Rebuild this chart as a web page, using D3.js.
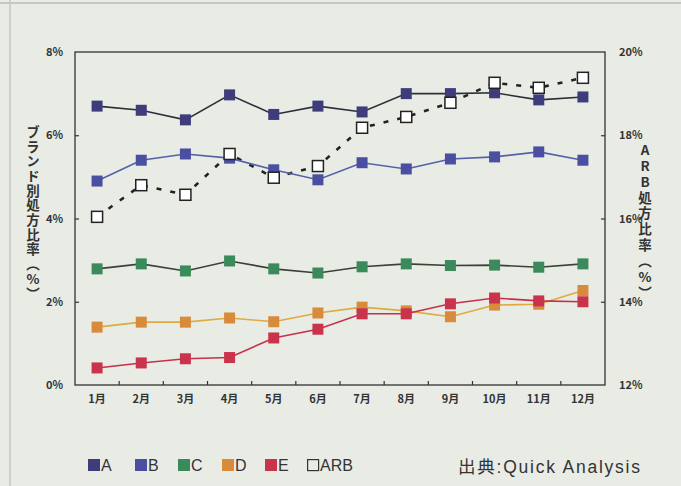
<!DOCTYPE html>
<html>
<head>
<meta charset="utf-8">
<script src="https://cdn.jsdelivr.net/npm/d3@7"></script>
<style>
body { margin: 0; background: #e8ece5; }
svg { display: block; font-family: "Liberation Sans", Arial, sans-serif; }
</style>
</head>
<body>
<div id="chart"></div>
<script>
var width = 681;
var height = 486;

// data
var months = ["1月", "2月", "3月", "4月", "5月", "6月", "7月", "8月", "9月", "10月", "11月", "12月"];
var seriesA = [6.7, 6.6, 6.37, 6.97, 6.5, 6.7, 6.56, 7.0, 7.0, 7.02, 6.85, 6.92];
var seriesB = [4.9, 5.4, 5.55, 5.45, 5.17, 4.93, 5.34, 5.19, 5.43, 5.48, 5.6, 5.4];
var seriesC = [2.79, 2.91, 2.74, 2.98, 2.79, 2.69, 2.84, 2.91, 2.87, 2.88, 2.83, 2.91];
var seriesD = [1.39, 1.51, 1.51, 1.61, 1.52, 1.73, 1.87, 1.78, 1.64, 1.92, 1.94, 2.27];
var seriesE = [0.41, 0.53, 0.63, 0.66, 1.13, 1.34, 1.71, 1.71, 1.95, 2.09, 2.02, 2.0];
var seriesARB = [16.04, 16.8, 16.57, 17.55, 16.98, 17.26, 18.18, 18.44, 18.78, 19.26, 19.14, 19.38];
var leftTicks = [0, 2, 4, 6, 8];
var rightTicks = [12, 14, 16, 18, 20];

var brands = [
  { name: "A", values: seriesA, fill: "#3e3c7a", line: "#2e2e3a" },
  { name: "B", values: seriesB, fill: "#4a4fa2", line: "#5461a8" },
  { name: "C", values: seriesC, fill: "#3a8a5c", line: "#3a4238" },
  { name: "D", values: seriesD, fill: "#d98b3c", line: "#dfaa3e" },
  { name: "E", values: seriesE, fill: "#c9344c", line: "#c8304a" }
];

var plotLeft = 75, plotRight = 605, plotTop = 52, plotBottom = 385;

var x = d3.scaleBand().domain(months).range([plotLeft, plotRight]);
var yL = d3.scaleLinear().domain([0, 8]).range([plotBottom, plotTop]);
var yR = d3.scaleLinear().domain([12, 20]).range([plotBottom, plotTop]);

var svg = d3.select("#chart").append("svg")
  .attr("width", width)
  .attr("height", height);

// paper edges from the scan
svg.append("line").attr("x1", 0).attr("x2", width).attr("y1", 3).attr("y2", 3)
  .attr("stroke", "#b9bdb6").attr("stroke-width", 1.5);
svg.append("line").attr("x1", 10).attr("x2", 10).attr("y1", 0).attr("y2", height)
  .attr("stroke", "#c4c8c1").attr("stroke-width", 1.5);

// frame
svg.append("rect")
  .attr("x", plotLeft).attr("y", plotTop)
  .attr("width", plotRight - plotLeft).attr("height", plotBottom - plotTop)
  .attr("fill", "none").attr("stroke", "#333").attr("stroke-width", 1.3);

// left axis
var gL = svg.append("g").attr("transform", "translate(" + plotLeft + ",0)")
  .call(d3.axisLeft(yL).tickValues(leftTicks).tickSize(-4).tickPadding(12)
    .tickFormat(function (d) { return d + "%"; }));
// right axis
var gR = svg.append("g").attr("transform", "translate(" + plotRight + ",0)")
  .call(d3.axisRight(yR).tickValues(rightTicks).tickSize(-4).tickPadding(14)
    .tickFormat(function (d) { return d + "%"; }));
// bottom axis
var gB = svg.append("g").attr("transform", "translate(0," + plotBottom + ")")
  .call(d3.axisBottom(x).tickSize(0).tickPadding(10));

[gL, gR, gB].forEach(function (g) {
  g.select(".domain").remove();
  g.selectAll("line").attr("stroke", "#333").attr("stroke-width", 1.2);
  g.selectAll("text").attr("fill", "#333").attr("font-size", 11)
    .attr("font-weight", "bold").attr("font-family", "'Noto Sans CJK JP', 'Liberation Sans', sans-serif");
});
gL.selectAll(".tick").filter(function (d) { return d === 0 || d === 8; }).select("line").remove();
gR.selectAll(".tick").filter(function (d) { return d === 12 || d === 20; }).select("line").remove();

// ticks at month boundaries
svg.append("g").selectAll("line")
  .data(months.slice(1))
  .enter().append("line")
  .attr("x1", function (d) { return x(d); })
  .attr("x2", function (d) { return x(d); })
  .attr("y1", plotBottom).attr("y2", plotBottom - 4)
  .attr("stroke", "#333").attr("stroke-width", 1.2);

// axis titles (vertical)
svg.append("text")
  .attr("x", 33).attr("y", 125)
  .style("writing-mode", "vertical-rl")
  .style("text-orientation", "upright")
  .attr("font-size", 13.5).attr("font-weight", "bold")
  .attr("letter-spacing", 1.2)
  .attr("font-family", "'Noto Sans CJK JP', sans-serif")
  .attr("fill", "#333")
  .text("ブランド別処方比率（%）");

svg.append("text")
  .attr("x", 645).attr("y", 143)
  .style("writing-mode", "vertical-rl")
  .style("text-orientation", "upright")
  .attr("font-size", 13.5).attr("font-weight", "bold")
  .attr("letter-spacing", 2.4)
  .attr("font-family", "'Noto Sans CJK JP', sans-serif")
  .attr("fill", "#333")
  .text("ARB処方比率（%）");

var cx = function (d, i) { return x(months[i]) + x.bandwidth() / 2; };
var ms = 11;

// ARB dashed line (right axis)
svg.append("path")
  .datum(seriesARB)
  .attr("fill", "none")
  .attr("stroke", "#222")
  .attr("stroke-width", 2.6)
  .attr("stroke-dasharray", "5,9")
  .attr("d", d3.line().x(cx).y(function (d) { return yR(d); }));

brands.forEach(function (b) {
  svg.append("path")
    .datum(b.values)
    .attr("fill", "none")
    .attr("stroke", b.line)
    .attr("stroke-width", 1.6)
    .attr("d", d3.line().x(cx).y(function (d) { return yL(d); }));
  svg.append("g").selectAll("rect")
    .data(b.values)
    .enter().append("rect")
    .attr("x", function (d, i) { return cx(d, i) - ms / 2; })
    .attr("y", function (d) { return yL(d) - ms / 2; })
    .attr("width", ms).attr("height", ms)
    .attr("fill", b.fill);
});

svg.append("g").selectAll("rect")
  .data(seriesARB)
  .enter().append("rect")
  .attr("x", function (d, i) { return cx(d, i) - ms / 2; })
  .attr("y", function (d) { return yR(d) - ms / 2; })
  .attr("width", ms).attr("height", ms)
  .attr("fill", "#fff")
  .attr("stroke", "#222").attr("stroke-width", 1.5);

// legend
var legend = brands.map(function (b) { return { name: b.name, fill: b.fill, stroke: "none" }; });
legend.push({ name: "ARB", fill: "none", stroke: "#333" });
var legX = [88, 135, 178, 222, 265, 307];
var lg = svg.append("g").selectAll("g")
  .data(legend)
  .enter().append("g")
  .attr("transform", function (d, i) { return "translate(" + legX[i] + ",459)"; });
lg.append("rect")
  .attr("x", function (d) { return d.stroke === "none" ? 0 : 0.6; })
  .attr("y", function (d) { return d.stroke === "none" ? 0 : 0.6; })
  .attr("width", function (d) { return d.stroke === "none" ? 12 : 11; })
  .attr("height", function (d) { return d.stroke === "none" ? 12 : 11; })
  .attr("fill", function (d) { return d.fill; })
  .attr("stroke", function (d) { return d.stroke; })
  .attr("stroke-width", 1.2);
lg.append("text")
  .attr("x", 13).attr("y", 12)
  .attr("font-size", 16).attr("fill", "#333")
  .text(function (d) { return d.name; });

svg.append("text")
  .attr("x", 458).attr("y", 473)
  .attr("font-size", 17.5).attr("fill", "#333")
  .attr("font-family", "'Liberation Sans', 'Noto Sans CJK JP', sans-serif")
  .attr("textLength", 182).attr("lengthAdjust", "spacing")
  .text("出典:Quick Analysis");
</script>
</body>
</html>
